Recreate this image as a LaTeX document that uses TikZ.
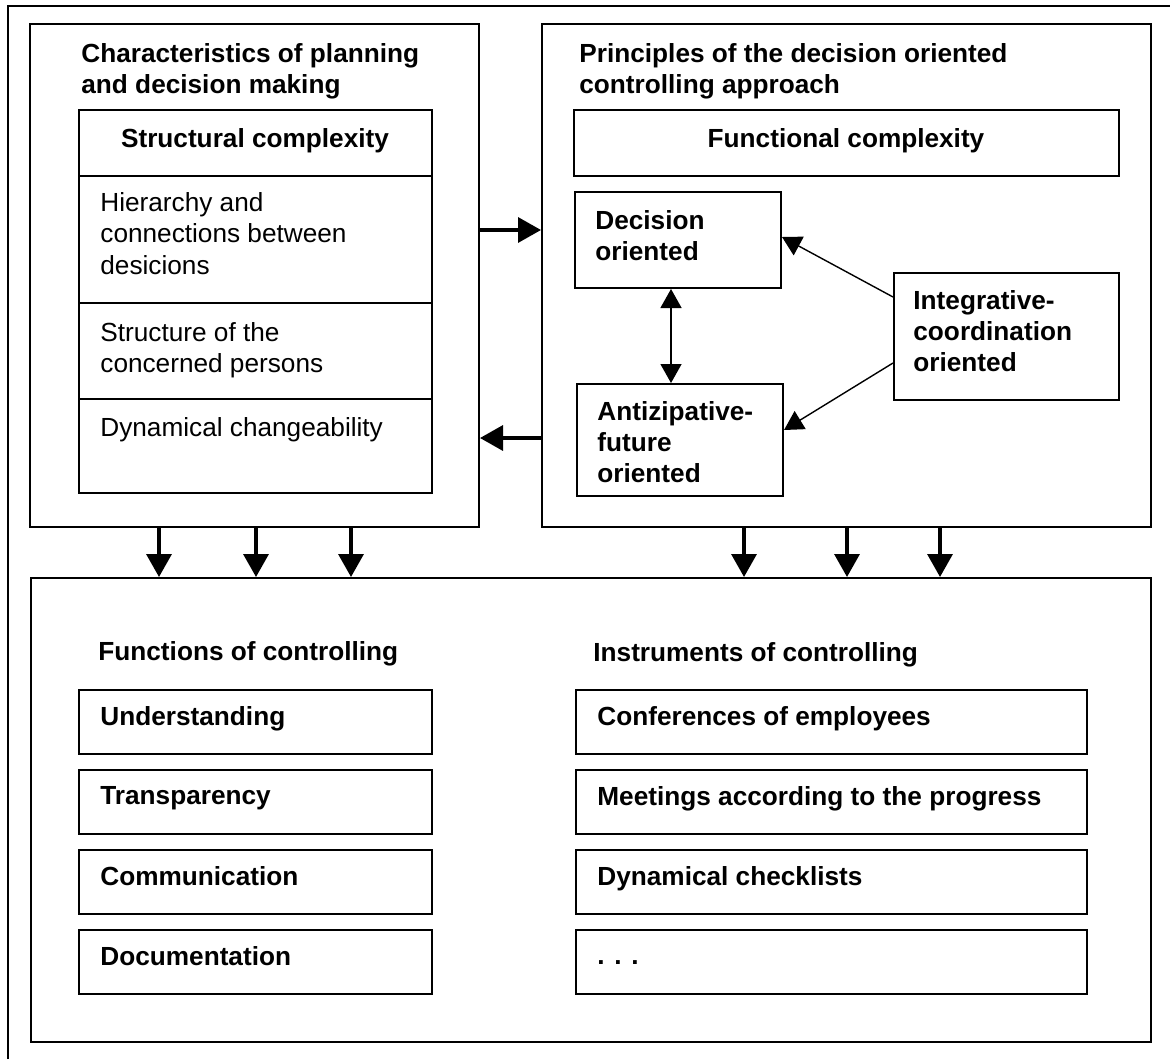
\documentclass[tikz,border=0pt]{standalone}
\usepackage{fontspec}
\setmainfont{Liberation Sans}
\usetikzlibrary{arrows.meta,fit}
\begin{document}
\begin{tikzpicture}[x=0.5pt,y=-0.5pt,
  box/.style={draw,line width=1pt,inner sep=0pt},
  txt/.style={inner sep=0pt,anchor=north west,align=left,font=\fontsize{13.1}{15.75}\selectfont},
  btxt/.style={txt,font=\fontsize{13.1}{15.75}\selectfont\bfseries},
  bigarrow/.style={line width=1.7pt,-{Triangle[length=11.5pt,width=12.5pt]}},
  thinarrow/.style={line width=0.7pt,-{Triangle[length=9.5pt,width=10.5pt]}},
  thinboth/.style={line width=0.7pt,{Triangle[length=9.5pt,width=10.5pt]}-{Triangle[length=9.5pt,width=10.5pt]}}]
\useasboundingbox (0,0) rectangle (1170,1059);
% outer frame (partial)
\draw[line width=1.25pt] (8,1059) -- (8,6) -- (1170,6);
% panels
\node[box,fit={(30,24) (479,527)}] (lp) {};
\node[box,fit={(542,24) (1151,527)}] (rp) {};
\node[box,fit={(31,578) (1151,1042)}] (bp) {};
% left panel
\node[btxt] (lptitle) at (81,43) {Characteristics of planning\\and decision making};
\node[box,fit={(79,110) (432,493)}] (sb) {};
\draw[line width=1pt] (sb.west |- 0,176) -- (sb.east |- 0,176);
\draw[line width=1pt] (sb.west |- 0,303) -- (sb.east |- 0,303);
\draw[line width=1pt] (sb.west |- 0,399) -- (sb.east |- 0,399);
\node[btxt,anchor=north] (sbt) at (255,128) {Structural complexity};
\node[txt] (hier) at (100,192) {Hierarchy and\\connections between\\desicions};
\node[txt] (strp) at (100,322) {Structure of the\\concerned persons};
\node[txt] (dyn) at (100,417) {Dynamical changeability};
% right panel
\node[btxt] (rptitle) at (579,43) {Principles of the decision oriented\\controlling approach};
\node[box,fit={(574,110) (1119,176)}] (fc) {};
\node[btxt,anchor=north] (fct) at (846,128) {Functional complexity};
\node[box,fit={(575,192) (781,288)}] (dec) {};
\node[btxt] (dect) at (595,210) {Decision\\oriented};
\node[box,fit={(577,384) (783,496)}] (ant) {};
\node[btxt,font=\fontsize{13.1}{15.5}\selectfont\bfseries] (antt) at (597,401) {Antizipative-\\future\\oriented};
\node[box,fit={(894,273) (1119,400)}] (int) {};
\node[btxt,font=\fontsize{13.1}{15.5}\selectfont\bfseries] (intt) at (913,290) {Integrative-\\coordination\\oriented};
\draw[thinboth] (dec.south -| 671,0) -- (ant.north -| 671,0);
\draw[thinarrow] (int.west |- 0,297) -- (dec.east |- 0,237);
\draw[thinarrow] (int.west |- 0,363) -- (ant.east |- 0,430);
% arrows between panels
\draw[bigarrow] (lp.east |- 0,230) -- (rp.west |- 0,230);
\draw[bigarrow] (rp.west |- 0,438) -- (lp.east |- 0,438);
\foreach \x in {159,256,351} \draw[bigarrow] (lp.south -| \x,0) -- (bp.north -| \x,0);
\foreach \x in {744,847,940} \draw[bigarrow] (rp.south -| \x,0) -- (bp.north -| \x,0);
% bottom panel
\node[btxt] (fh) at (98,641) {Functions of controlling};
\node[btxt] (ih) at (593,642) {Instruments of controlling};
\foreach \y/\t [count=\i] in {690/Understanding,770/Transparency,850/Communication,930/Documentation}{
  \node[box,fit={(79,\y) (432,\y+64)}] (f\i) {};
  \node[btxt] (ft\i) at (100,\y+16) {\t};
}
\foreach \y/\t [count=\i] in {690/Conferences of employees,770/Meetings according to the progress,850/Dynamical checklists,930/\vphantom{D}. . .}{
  \node[box,fit={(576,\y) (1087,\y+64)}] (r\i) {};
  \node[btxt] (rt\i) at (597,\y+16) {\t};
}
\end{tikzpicture}
\end{document}
